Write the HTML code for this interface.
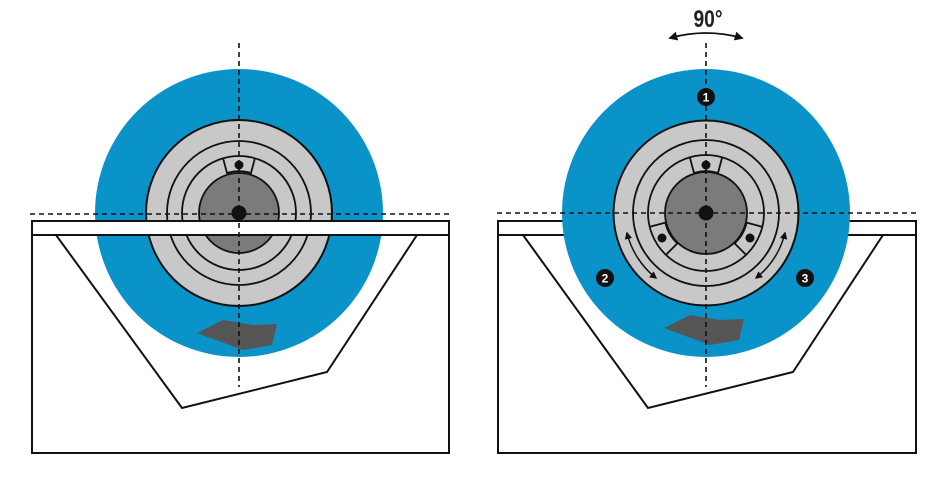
<!DOCTYPE html>
<html><head><meta charset="utf-8"><style>
html,body{margin:0;padding:0;background:#fff;}
svg{display:block;}
</style></head><body>
<svg width="948" height="483" viewBox="0 0 948 483" xmlns="http://www.w3.org/2000/svg">
<defs>
<marker id="ah" viewBox="0 0 10 10" refX="8" refY="5" markerWidth="5" markerHeight="5" orient="auto-start-reverse">
<path d="M0,0 L10,5 L0,10 z" fill="#111"/>
</marker>
<g id="keeper">
<path d="M-16,-55 L-12,-40 A40,40 0 0 1 12,-40 L16,-55" fill="none" stroke="#111" stroke-width="1.8"/>
</g>
</defs>

<!-- LEFT FIGURE -->
<g>
<circle cx="239" cy="213" r="144" fill="#0a93c9"/>
<circle cx="239" cy="213" r="93" fill="#c8c8c8" stroke="#111" stroke-width="2"/>
<circle cx="239" cy="213" r="72" fill="none" stroke="#111" stroke-width="1.8"/>
<circle cx="239" cy="213" r="57" fill="none" stroke="#111" stroke-width="1.8"/>
<circle cx="239" cy="213" r="40" fill="#7b7b7b" stroke="#111" stroke-width="1.8"/>
<g transform="translate(239,213)"><use href="#keeper"/></g>
<circle cx="239" cy="165" r="4.5" fill="#111"/>
<polygon points="197,333 223,320 253,325 277,324 272,345 243,350" fill="#555"/>
<rect x="32" y="221" width="417" height="14" fill="#fff" stroke="#111" stroke-width="2"/>
<path d="M32,235 L32,453 L449,453 L449,235" fill="none" stroke="#111" stroke-width="2"/>
<polyline points="56,235 182,408 327,372 417,235" fill="none" stroke="#111" stroke-width="2"/>
<line x1="30" y1="214" x2="451" y2="214" stroke="#111" stroke-width="1.6" stroke-dasharray="5,4"/>
<line x1="239" y1="43" x2="239" y2="387" stroke="#111" stroke-width="1.6" stroke-dasharray="5,4"/>
<circle cx="239" cy="213" r="7.5" fill="#111"/>
</g>

<!-- RIGHT FIGURE -->
<g>
<rect x="498" y="221" width="418" height="14" fill="#fff" stroke="#111" stroke-width="2"/>
<path d="M498,235 L498,453 L916,453 L916,235" fill="none" stroke="#111" stroke-width="2"/>
<polyline points="523,235 648,408 793,372 883,235" fill="none" stroke="#111" stroke-width="2"/>
<circle cx="706" cy="213" r="144" fill="#0a93c9"/>
<circle cx="706" cy="213" r="92.5" fill="#c8c8c8" stroke="#111" stroke-width="2"/>
<circle cx="706" cy="213" r="73" fill="none" stroke="#111" stroke-width="1.8"/>
<circle cx="706" cy="213" r="58" fill="none" stroke="#111" stroke-width="1.8"/>
<circle cx="706" cy="213" r="41" fill="#7b7b7b" stroke="#111" stroke-width="1.8"/>
<g transform="translate(706,213)"><use href="#keeper"/></g>
<g transform="translate(706,213) rotate(-120)"><use href="#keeper"/></g>
<g transform="translate(706,213) rotate(120)"><use href="#keeper"/></g>
<circle cx="706" cy="165" r="4.5" fill="#111"/>
<circle cx="662" cy="238" r="4.5" fill="#111"/>
<circle cx="750" cy="238" r="4.5" fill="#111"/>
<polygon points="664,328 690,315 720,320 744,319 739,340 710,345" fill="#555"/>
<line x1="497" y1="213" x2="916" y2="213" stroke="#111" stroke-width="1.6" stroke-dasharray="5,4"/>
<line x1="706" y1="43" x2="706" y2="387" stroke="#111" stroke-width="1.6" stroke-dasharray="5,4"/>
<circle cx="706" cy="213" r="7.5" fill="#111"/>
<path d="M627,233 A82,82 0 0 0 656,278" fill="none" stroke="#111" stroke-width="1.5" marker-start="url(#ah)" marker-end="url(#ah)"/>
<path d="M785,233 A82,82 0 0 1 756,278" fill="none" stroke="#111" stroke-width="1.5" marker-start="url(#ah)" marker-end="url(#ah)"/>
<g font-family="Liberation Sans, sans-serif" font-weight="bold" font-size="12" fill="#fff" text-anchor="middle">
<circle cx="706" cy="97" r="9" fill="#111"/><text x="706" y="101.5">1</text>
<circle cx="605" cy="278" r="9" fill="#111"/><text x="605" y="282.5">2</text>
<circle cx="805" cy="278" r="9" fill="#111"/><text x="805" y="282.5">3</text>
</g>
<text x="708" y="27" font-family="Liberation Sans, sans-serif" font-size="24" font-weight="bold" fill="#222" text-anchor="middle" transform="translate(708,0) scale(0.8,1) translate(-708,0)">90°</text>
<path d="M670,38 Q706,28 742,38" fill="none" stroke="#111" stroke-width="1.8" marker-start="url(#ah)" marker-end="url(#ah)"/>
</g>
</svg>
</body></html>
